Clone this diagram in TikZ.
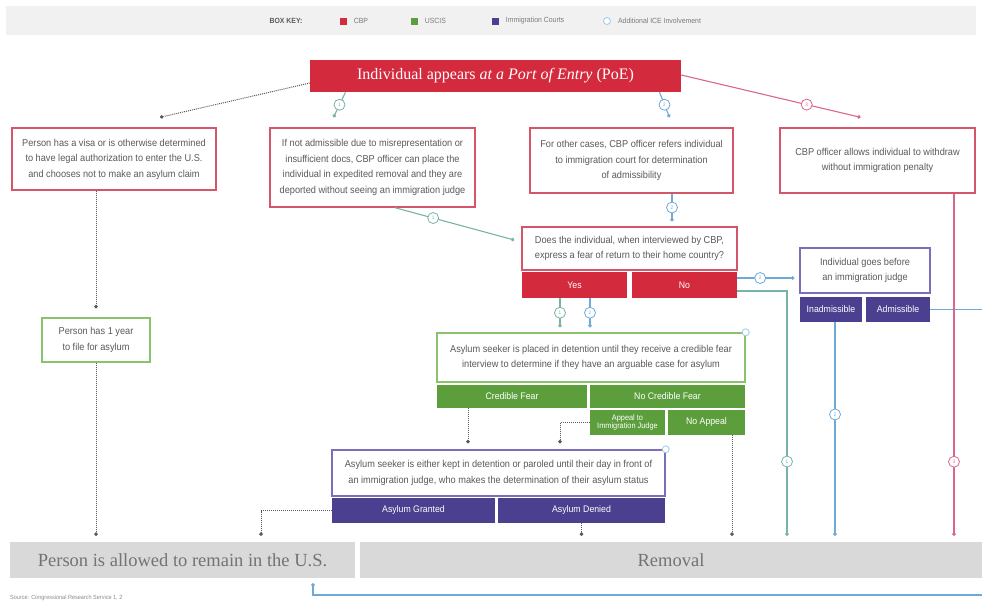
\documentclass[tikz,border=0pt]{standalone}
\usepackage{fontspec}
\usetikzlibrary{arrows.meta,positioning,calc}
\newfontfamily\boxfont[FakeStretch=0.92]{Liberation Sans}
\newfontfamily\headfont{Liberation Serif}
\definecolor{cbpred}{HTML}{D42A3E}
\definecolor{cbpline}{HTML}{D5566A}
\definecolor{uscis}{HTML}{5C9E3C}
\definecolor{uscisline}{HTML}{8CC26B}
\definecolor{court}{HTML}{4B3F8F}
\definecolor{courtline}{HTML}{7A6FB8}
\definecolor{iceblue}{HTML}{9CCBE8}
\definecolor{pathone}{HTML}{78B3A8}
\definecolor{pathtwo}{HTML}{6EA9D8}
\definecolor{paththree}{HTML}{D9668F}
\definecolor{txtgray}{HTML}{5A5A5A}
\definecolor{bargray}{HTML}{D9D9D9}
\definecolor{keygray}{HTML}{F1F1F1}
\tikzstyle{boxtext}=[align=center, inner sep=0pt, text=txtgray, font=\boxfont\fontsize{10}{15.5}\selectfont]
\tikzstyle{cbpbox}=[boxtext, draw=cbpline, line width=1.4pt, fill=white]
\tikzstyle{uscisbox}=[boxtext, draw=uscisline, line width=1.4pt, fill=white]
\tikzstyle{courtbox}=[boxtext, draw=courtline, line width=1.4pt, fill=white]
\tikzstyle{cbphead}=[fill=cbpred, text=white, inner sep=0pt, font=\headfont\fontsize{16}{18}\selectfont]
\tikzstyle{cell}=[inner sep=0pt, align=center, text=white, font=\boxfont\fontsize{9.5}{10}\selectfont]
\tikzstyle{endbox}=[fill=bargray, inner sep=0pt, minimum height=36pt, text=txtgray!85, font=\headfont\fontsize{18.5}{20}\selectfont]
\tikzstyle{icedot}=[circle, draw=iceblue, fill=white, line width=0.8pt, minimum size=7pt, inner sep=0pt]
\tikzstyle{keytext}=[inner sep=0pt, text=txtgray!80, font=\boxfont\fontsize{7.5}{8}\selectfont]
\tikzstyle{num}=[circle, draw, fill=white, line width=0.8pt, minimum size=11pt, inner sep=0pt, font=\boxfont\fontsize{5}{5}\selectfont]
\tikzstyle{dotedge}=[draw=txtgray, densely dotted, line width=1pt, -{Circle[length=3.5pt]}, shorten >=6pt]
\tikzstyle{pathedge}=[draw, line width=1.1pt, -{Circle[length=3.5pt]}]

\begin{document}
\begin{tikzpicture}[x=1pt, y=-1pt]
    \useasboundingbox (0,0) rectangle (982,603);

    % box key
    \fill[keygray] (6,6) rectangle (976,35);
    \node[keytext, text=txtgray, font=\boxfont\bfseries\fontsize{7.5}{8}\selectfont] (key) at (286,21) {BOX KEY:};
    \foreach \x/\col/\name/\txt in {343/cbpred/kcbp/CBP, 414/uscis/kuscis/USCIS, 495/court/kcourt/Immigration Courts}
    {
        \node[fill=\col, minimum size=7pt, inner sep=0pt] (\name) at (\x,21) {};
        \node[keytext, right=7pt of \name] (\name-t) {\txt};
    }
    \node[icedot] (kice) at (607,21) {};
    \node[keytext, right=7pt of kice] (kice-t) {Additional ICE Involvement};

    % boxes
    \node[cbphead, minimum width=371pt, minimum height=32pt] (poe) at (495.5,76) {Individual appears \textit{at a Port of Entry} (PoE)};
    \node[cbpbox, minimum width=204pt, minimum height=62pt] (visa) at (114,159) {Person has a visa or is otherwise determined\\to have legal authorization to enter the U.S.\\and chooses not to make an asylum claim};
    \node[cbpbox, minimum width=205pt, minimum height=79pt] (expd) at (372.5,167.5) {If not admissible due to misrepresentation or\\insufficient docs, CBP officer can place the\\individual in expedited removal and they are\\deported without seeing an immigration judge};
    \node[cbpbox, minimum width=203pt, minimum height=65pt] (refer) at (631.5,160.5) {For other cases, CBP officer refers individual\\to immigration court for determination\\of admissibility};
    \node[cbpbox, minimum width=195pt, minimum height=65pt] (withdraw) at (877.5,160.5) {CBP officer allows individual to withdraw\\without immigration penalty};
    \node[cbpbox, minimum width=215pt, minimum height=43pt] (fear) at (629.5,248.5) {Does the individual, when interviewed by CBP,\\express a fear of return to their home country?};
    \node[courtbox, minimum width=130pt, minimum height=45pt] (judge) at (865,270.5) {Individual goes before\\an immigration judge};
    \node[uscisbox, minimum width=108pt, minimum height=44pt] (oneyear) at (96,340) {Person has 1 year\\to file for asylum};
    \node[uscisbox, minimum width=308pt, minimum height=49pt] (detain) at (591,357.5) {Asylum seeker is placed in detention until they receive a credible fear\\interview to determine if they have an arguable case for asylum};
    \node[courtbox, minimum width=333pt, minimum height=46pt] (hearing) at (498.5,473) {Asylum seeker is either kept in detention or paroled until their day in front of\\an immigration judge, who makes the determination of their asylum status};

    % answer cells
    \foreach \x/\y/\w/\h/\col/\name/\txt in {574.5/285/105/26/cbpred/yes/Yes, 684.5/285/105/26/cbpred/no/No,
        831/309.5/62/25/court/inadm/Inadmissible, 898/309.5/64/25/court/adm/Admissible,
        512/396.5/150/23/uscis/cred/Credible Fear, 667.5/396.5/155/23/uscis/nocred/No Credible Fear,
        706.5/422.5/77/25/uscis/noappeal/No Appeal,
        413.5/510.5/163/25/court/granted/Asylum Granted, 581.5/510.5/167/25/court/denied/Asylum Denied}
        \node[cell, fill=\col, minimum width=\w pt, minimum height=\h pt] (\name) at (\x,\y) {\txt};
    \node[cell, fill=uscis, minimum width=75pt, minimum height=25pt, font=\boxfont\fontsize{8}{8.5}\selectfont] (appeal) at (627.5,422.5) {Appeal to\\Immigration Judge};

    \node[icedot] (ice1) at (detain.north east) {};
    \node[icedot] (ice2) at (hearing.north east) {};

    % outcomes
    \node[endbox, minimum width=345pt] (remain) at (182.5,560) {Person is allowed to remain in the U.S.};
    \node[endbox, minimum width=622pt] (removal) at (671,560) {Removal};
    \node[keytext, anchor=west, font=\boxfont\fontsize{6}{7}\selectfont, text=txtgray!70] (source) at (10,598) {Source: Congressional Research Service 1, 2};

    % from the port of entry
    \path[dotedge, shorten >=0pt] ([yshift=-7pt]poe.west) -- ([xshift=46pt,yshift=10pt]visa.north);
    \path[pathedge, pathone] ([xshift=-150pt]poe.south) -- node[num] {1} ([xshift=-39pt,yshift=10pt]expd.north);
    \path[pathedge, pathtwo] ([xshift=164pt]poe.south) -- node[num] {2} ([xshift=38pt,yshift=10pt]refer.north);
    \path[pathedge, paththree] ([yshift=1pt]poe.east) -- node[num, pos=0.7] {3} ([xshift=-17pt,yshift=10pt]withdraw.north);

    % path 1 and 2 to the fear question
    \path[pathedge, pathone] ([xshift=22.5pt]expd.south) -- node[num, pos=0.32] {1} ([xshift=-7pt,yshift=8.5pt]fear.west);
    \path[pathedge, pathtwo] ([xshift=40.5pt]refer.south) -- node[num] {2} ([xshift=42.5pt,yshift=5pt]fear.north);
    \path[pathedge, pathone] ([xshift=-14.5pt]yes.south) -- node[num] {1} ([xshift=-31pt,yshift=5pt]detain.north);
    \path[pathedge, pathtwo] ([xshift=15.5pt]yes.south) -- node[num] {2} ([xshift=-1pt,yshift=5pt]detain.north);

    \coordinate (nohi) at ($(no.east)+(0,-7)$);
    \coordinate (nolo) at ($(no.east)+(0,6)$);
    \path[pathedge, pathtwo, shorten >=5pt] (nohi) -- node[num, pos=0.37] {2} (nohi -| judge.west);
    \path[pathedge, pathone, shorten >=6pt] (nolo) -| node[num, pos=0.84] {1} ([xshift=116pt]removal.north);

    % immigration judge
    \coordinate (inx) at ([xshift=4pt]inadm.south);
    \path[pathedge, pathtwo, shorten >=6pt] (inx) -- node[num, pos=0.42] {2} (inx |- removal.north);
    \coordinate (farside) at (990,595);
    \coordinate (rmx) at ([xshift=130.5pt]remain.south);
    \path[pathedge, pathtwo, shorten >=5pt] (adm.east) -| (farside) -| (rmx);

    % withdrawal
    \coordinate (wdx) at ([xshift=76.5pt]withdraw.south);
    \path[pathedge, paththree, shorten >=6pt] (wdx) -- node[num, pos=0.77] {3} (wdx |- removal.north);

    % dotted outcomes
    \path[dotedge, shorten >=9pt] ([xshift=-18pt]visa.south) -- (oneyear.north);
    \path[dotedge] (oneyear.south) -- (oneyear.south |- remain.north);
    \coordinate (cfx) at ([xshift=-44pt]cred.south);
    \path[dotedge] (cfx) -- (cfx |- hearing.north);
    \path[dotedge] (appeal.west) -| ([xshift=61.5pt]hearing.north);
    \path[dotedge] (granted.west) -| ([xshift=78.5pt]remain.north);
    \path[dotedge] (denied.south) -- (denied.south |- removal.north);
    \coordinate (nax) at ([xshift=25.5pt]noappeal.south);
    \path[dotedge] (nax) -- (nax |- removal.north);

\end{tikzpicture}
\end{document}
